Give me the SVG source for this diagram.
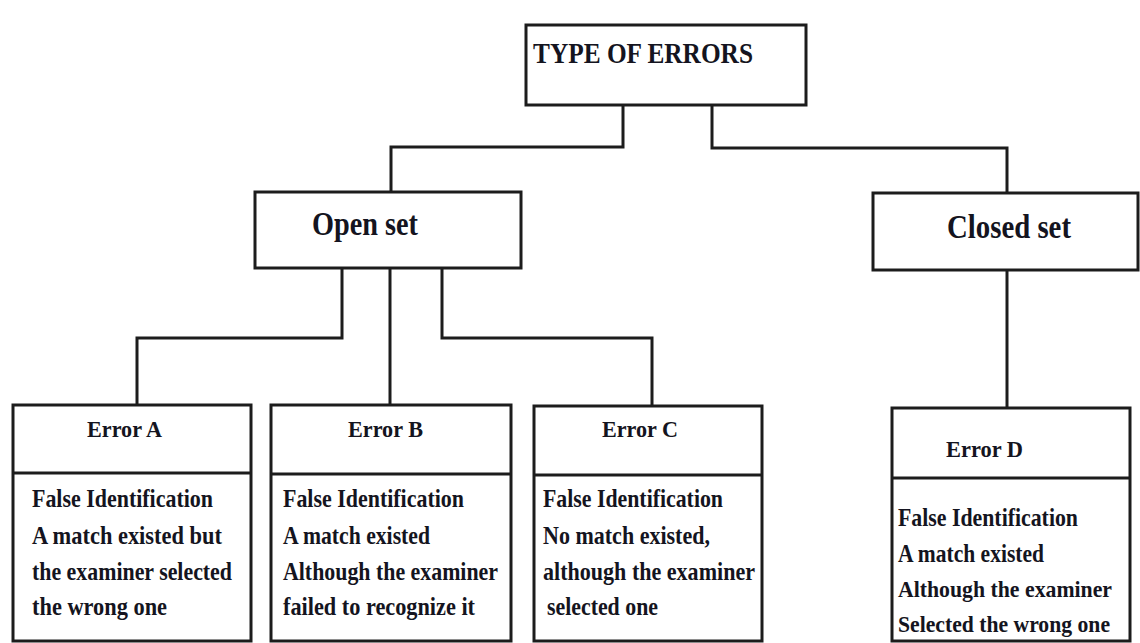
<svg xmlns="http://www.w3.org/2000/svg" width="1140" height="643" viewBox="0 0 1140 643">
<style>
.box{fill:#fff;stroke:#1c1c1c;stroke-width:3}
.div{stroke:#1c1c1c;stroke-width:3}
.con{fill:none;stroke:#1c1c1c;stroke-width:3}
text{font-family:"Liberation Serif","Times New Roman",serif;font-weight:bold;fill:#141420}
.t{font-size:29px}
.h{font-size:33px}
.e{font-size:23px}
.b{font-size:25px}
.d{font-size:23px}
</style>
<rect width="1140" height="643" fill="#fff"/>
<g id="connectors">
<path class="con" d="M623 105 V147 H391 V192"/>
<path class="con" d="M712 105 V148 H1007 V193"/>
<path class="con" d="M342 268 V338 H137 V405"/>
<path class="con" d="M390 268 V405"/>
<path class="con" d="M442 268 V338 H652 V406"/>
<path class="con" d="M1007 270 V408"/>
</g>
<g id="type-of-errors">
<rect class="box" x="526" y="25" width="280" height="80"/>
<text class="t" x="533" y="63" textLength="220" lengthAdjust="spacingAndGlyphs">TYPE OF ERRORS</text>
</g>
<g id="open-set">
<rect class="box" x="255" y="192" width="266" height="76"/>
<text class="h" x="312" y="235" textLength="106" lengthAdjust="spacingAndGlyphs">Open set</text>
</g>
<g id="closed-set">
<rect class="box" x="873" y="193" width="265" height="77"/>
<text class="h" x="947" y="238" textLength="124" lengthAdjust="spacingAndGlyphs">Closed set</text>
</g>
<g id="error-a">
<rect class="box" x="13" y="405" width="238" height="236"/>
<line class="div" x1="13" y1="473" x2="251" y2="473"/>
<text class="e" x="87" y="437" textLength="75" lengthAdjust="spacingAndGlyphs">Error A</text>
<text class="b" x="32" y="507" textLength="181" lengthAdjust="spacingAndGlyphs">False Identification</text>
<text class="b" x="32" y="544" textLength="190" lengthAdjust="spacingAndGlyphs">A match existed  but</text>
<text class="b" x="32" y="580" textLength="200" lengthAdjust="spacingAndGlyphs">the examiner selected</text>
<text class="b" x="32" y="615" textLength="135" lengthAdjust="spacingAndGlyphs">the wrong one</text>
</g>
<g id="error-b">
<rect class="box" x="271" y="405" width="240" height="236"/>
<line class="div" x1="271" y1="474" x2="511" y2="474"/>
<text class="e" x="348" y="437" textLength="75" lengthAdjust="spacingAndGlyphs">Error B</text>
<text class="b" x="283" y="507" textLength="181" lengthAdjust="spacingAndGlyphs">False Identification</text>
<text class="b" x="283" y="544" textLength="147" lengthAdjust="spacingAndGlyphs">A match existed</text>
<text class="b" x="283" y="580" textLength="215" lengthAdjust="spacingAndGlyphs">Although the examiner</text>
<text class="b" x="283" y="615" textLength="192" lengthAdjust="spacingAndGlyphs">failed to recognize  it</text>
</g>
<g id="error-c">
<rect class="box" x="534" y="406" width="228" height="235"/>
<line class="div" x1="534" y1="475" x2="762" y2="475"/>
<text class="e" x="602" y="437" textLength="76" lengthAdjust="spacingAndGlyphs">Error C</text>
<text class="b" x="543" y="507" textLength="180" lengthAdjust="spacingAndGlyphs">False Identification</text>
<text class="b" x="543" y="544" textLength="167" lengthAdjust="spacingAndGlyphs">No match existed,</text>
<text class="b" x="543" y="580" textLength="212" lengthAdjust="spacingAndGlyphs">although  the  examiner</text>
<text class="b" x="547" y="615" textLength="111" lengthAdjust="spacingAndGlyphs">selected  one</text>
</g>
<g id="error-d">
<rect class="box" x="892" y="408" width="238" height="233"/>
<line class="div" x1="892" y1="478" x2="1130" y2="478"/>
<text class="e" x="946" y="457" textLength="77" lengthAdjust="spacingAndGlyphs">Error D</text>
<text class="b" x="898" y="526" textLength="180" lengthAdjust="spacingAndGlyphs">False Identification</text>
<text class="b" x="898" y="562" textLength="146" lengthAdjust="spacingAndGlyphs">A match existed</text>
<text class="d" x="898" y="597" textLength="214" lengthAdjust="spacingAndGlyphs">Although  the examiner</text>
<text class="d" x="898" y="632" textLength="212" lengthAdjust="spacingAndGlyphs">Selected the wrong one</text>
</g>
</svg>
